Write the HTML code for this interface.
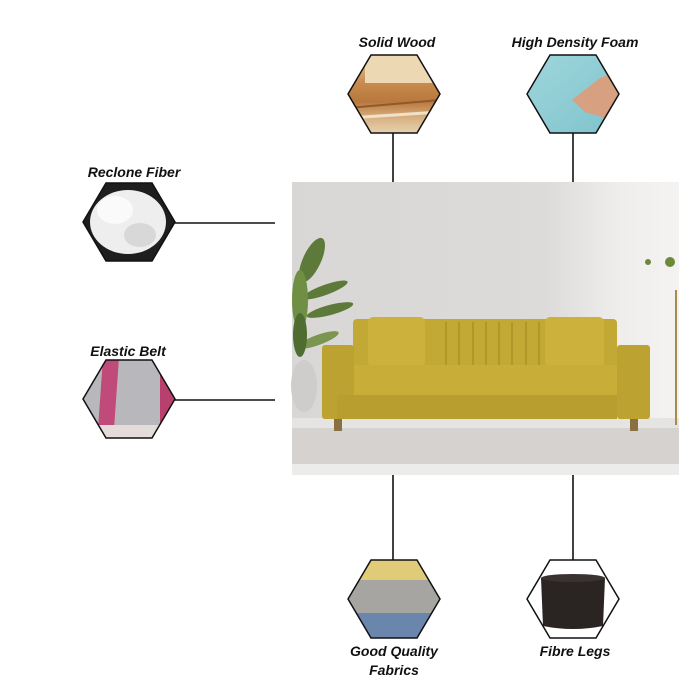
<!DOCTYPE html>
<html><head><meta charset="utf-8"><style>
html,body{margin:0;padding:0;background:#fff;width:679px;height:679px;overflow:hidden}
svg{display:block}
text{font-family:"Liberation Sans",sans-serif;font-weight:bold;font-style:italic;font-size:14px;fill:#111}
</style></head><body>
<svg width="679" height="679" viewBox="0 0 679 679" xmlns="http://www.w3.org/2000/svg">
<defs>
<linearGradient id="wall" x1="0" y1="0" x2="1" y2="0">
<stop offset="0" stop-color="#d9d7d5"/><stop offset="0.65" stop-color="#dddbd9"/><stop offset="0.85" stop-color="#efeeec"/><stop offset="1" stop-color="#f4f3f1"/></linearGradient>
<linearGradient id="wood" x1="0" y1="0" x2="0" y2="1">
<stop offset="0" stop-color="#e8d2a8"/><stop offset="0.35" stop-color="#c98b4e"/><stop offset="0.6" stop-color="#b8783e"/><stop offset="0.8" stop-color="#d8b080"/><stop offset="1" stop-color="#e6d2b0"/></linearGradient>
<linearGradient id="foam" x1="0" y1="0" x2="1" y2="1">
<stop offset="0" stop-color="#9fd6dc"/><stop offset="1" stop-color="#7fc3cc"/></linearGradient>
<clipPath id="h1"><polygon points="348,94 371,55 417,55 440,94 417,133 371,133"/></clipPath>
<clipPath id="h2"><polygon points="527,94 550,55 596,55 619,94 596,133 550,133"/></clipPath>
<clipPath id="h3"><polygon points="83,222 106,183 152,183 175,222 152,261 106,261"/></clipPath>
<clipPath id="h4"><polygon points="83,399 106,360 152,360 175,399 152,438 106,438"/></clipPath>
<clipPath id="h5"><polygon points="348,599 371,560 417,560 440,599 417,638 371,638"/></clipPath>
<clipPath id="h6"><polygon points="527,599 550,560 596,560 619,599 596,638 550,638"/></clipPath>
</defs>

<!-- connectors -->
<g stroke="#111" stroke-width="1.6">
<line x1="393" y1="133" x2="393" y2="183"/><line x1="573" y1="133" x2="573" y2="183"/>
<line x1="175" y1="223" x2="275" y2="223"/><line x1="175" y1="400" x2="275" y2="400"/>
<line x1="393" y1="475" x2="393" y2="560"/><line x1="573" y1="475" x2="573" y2="560"/>
</g>

<!-- photo -->
<rect x="292" y="182" width="387" height="293" fill="url(#wall)"/>
<rect x="292" y="418" width="387" height="57" fill="#e6e4e2"/>
<rect x="292" y="428" width="387" height="36" fill="#d6d2cf"/>
<rect x="292" y="464" width="387" height="11" fill="#ececea"/>
<!-- plant -->
<ellipse cx="304" cy="386" rx="13" ry="26" fill="#cfcdcb"/>
<g fill="#5e7a3a">
<ellipse cx="312" cy="260" rx="9" ry="24" transform="rotate(25 312 260)"/>
<ellipse cx="325" cy="290" rx="24" ry="5" transform="rotate(-20 325 290)"/>
<ellipse cx="330" cy="310" rx="24" ry="5" transform="rotate(-15 330 310)"/>
<ellipse cx="300" cy="300" rx="8" ry="30" fill="#6f8f45"/>
<ellipse cx="318" cy="340" rx="22" ry="5" transform="rotate(-20 318 340)" fill="#7a9650"/>
<ellipse cx="300" cy="335" rx="7" ry="22" fill="#4f6d30"/>
</g>
<!-- right stand plant -->
<line x1="676" y1="290" x2="676" y2="425" stroke="#a88a50" stroke-width="2"/>
<circle cx="670" cy="262" r="5" fill="#6a8a3a"/><circle cx="648" cy="262" r="3" fill="#6a8a3a"/>
<!-- sofa -->
<g>
<rect x="353" y="319" width="264" height="50" rx="4" fill="#c2a834"/>
<g stroke="#a68f22" stroke-width="1.3">
<line x1="446" y1="322" x2="446" y2="366"/><line x1="459" y1="322" x2="459" y2="366"/>
<line x1="473" y1="322" x2="473" y2="366"/><line x1="486" y1="322" x2="486" y2="366"/>
<line x1="499" y1="322" x2="499" y2="366"/><line x1="512" y1="322" x2="512" y2="366"/>
<line x1="526" y1="322" x2="526" y2="366"/><line x1="539" y1="322" x2="539" y2="366"/>
</g>
<rect x="368" y="317" width="57" height="50" rx="5" fill="#ccb23c"/>
<rect x="545" y="317" width="59" height="50" rx="5" fill="#ccb23c"/>
<rect x="337" y="365" width="307" height="30" rx="4" fill="#c8ad38"/>
<rect x="322" y="345" width="32" height="74" rx="3" fill="#bca230"/>
<rect x="617" y="345" width="33" height="74" rx="3" fill="#bca230"/>
<rect x="337" y="395" width="280" height="24" fill="#b89e2e"/>
<rect x="334" y="419" width="8" height="12" fill="#8a7040"/>
<rect x="630" y="419" width="8" height="12" fill="#8a7040"/>
</g>

<!-- hex 1 wood -->
<g clip-path="url(#h1)"><rect x="348" y="55" width="92" height="78" fill="url(#wood)"/>
<rect x="365" y="55" width="75" height="28" fill="#ecd9b4"/>
<line x1="348" y1="108" x2="440" y2="100" stroke="#8e5a2a" stroke-width="2"/>
<line x1="348" y1="118" x2="440" y2="112" stroke="#f0e2c8" stroke-width="3"/></g>
<polygon points="348,94 371,55 417,55 440,94 417,133 371,133" fill="none" stroke="#111" stroke-width="1.5"/>
<!-- hex 2 foam -->
<g clip-path="url(#h2)"><rect x="527" y="55" width="92" height="78" fill="url(#foam)"/>
<path d="M572,100 L600,78 L620,70 L620,130 L605,118 L585,112 Z" fill="#d7a080"/></g>
<polygon points="527,94 550,55 596,55 619,94 596,133 550,133" fill="none" stroke="#111" stroke-width="1.5"/>
<!-- hex 3 fiber -->
<g clip-path="url(#h3)"><rect x="83" y="183" width="92" height="78" fill="#1e1e1e"/>
<ellipse cx="128" cy="222" rx="38" ry="32" fill="#eeeeee"/>
<ellipse cx="115" cy="210" rx="18" ry="14" fill="#fafafa"/><ellipse cx="140" cy="235" rx="16" ry="12" fill="#d8d8d8"/></g>
<polygon points="83,222 106,183 152,183 175,222 152,261 106,261" fill="none" stroke="#111" stroke-width="1.5"/>
<!-- hex 4 belt -->
<g clip-path="url(#h4)"><rect x="83" y="360" width="92" height="78" fill="#b8b8bc"/>
<rect x="96" y="360" width="16" height="70" fill="#c04a7a" transform="skewX(-8)"/>
<rect x="128" y="360" width="16" height="70" fill="#c04a7a" transform="skewX(-4)"/>
<rect x="160" y="360" width="16" height="70" fill="#b8406e"/>
<rect x="83" y="425" width="92" height="13" fill="#e4dcd8"/></g>
<polygon points="83,399 106,360 152,360 175,399 152,438 106,438" fill="none" stroke="#111" stroke-width="1.5"/>
<!-- hex 5 fabric -->
<g clip-path="url(#h5)"><rect x="348" y="560" width="92" height="20" fill="#e0cc78"/>
<rect x="348" y="580" width="92" height="33" fill="#a7a5a2"/>
<rect x="348" y="613" width="92" height="25" fill="#6a86ac"/></g>
<polygon points="348,599 371,560 417,560 440,599 417,638 371,638" fill="none" stroke="#111" stroke-width="1.5"/>
<!-- hex 6 leg -->
<g clip-path="url(#h6)"><rect x="527" y="560" width="92" height="78" fill="#fff"/>
<path d="M541,578 L605,578 L603,626 Q573,632 543,626 Z" fill="#2a2422"/>
<ellipse cx="573" cy="578" rx="32" ry="4" fill="#3a3230"/></g>
<polygon points="527,599 550,560 596,560 619,599 596,638 550,638" fill="none" stroke="#111" stroke-width="1.5"/>

<!-- labels -->
<text x="397" y="47" text-anchor="middle">Solid Wood</text>
<text x="575" y="47" text-anchor="middle" font-size="13">High Density Foam</text>
<text x="134" y="177" text-anchor="middle">Reclone Fiber</text>
<text x="128" y="356" text-anchor="middle">Elastic Belt</text>
<text x="394" y="656" text-anchor="middle">Good Quality</text>
<text x="394" y="675" text-anchor="middle">Fabrics</text>
<text x="575" y="656" text-anchor="middle">Fibre Legs</text>
</svg>
</body></html>
